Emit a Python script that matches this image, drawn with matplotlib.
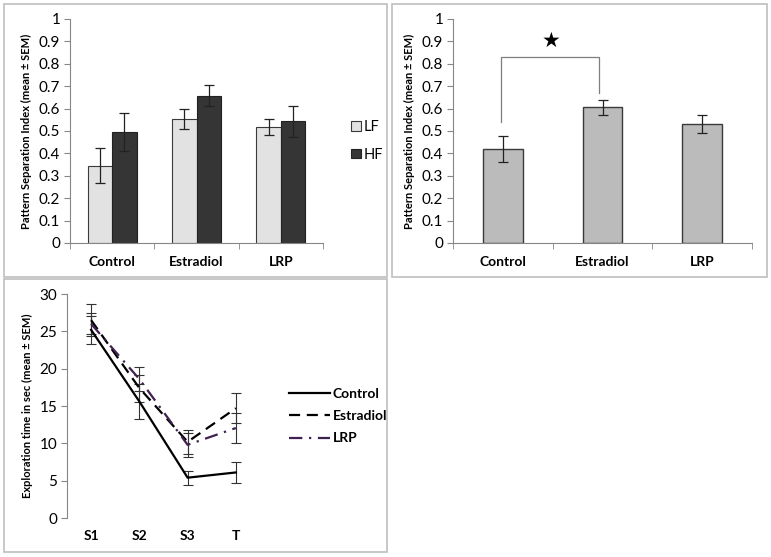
import numpy as np
import matplotlib.pyplot as plt
from matplotlib.patches import Rectangle
from matplotlib.lines import Line2D

plt.rcParams['font.family'] = ['Lato', 'DejaVu Sans']

# podaci - panel 1 (LF / HF)
groups = ["Control", "Estradiol", "LRP"]
lf_mean = [0.345, 0.553, 0.518]
lf_sem = [0.078, 0.045, 0.037]
hf_mean = [0.495, 0.657, 0.543]
hf_sem = [0.085, 0.047, 0.068]

# panel 2
psi_mean = [0.418, 0.605, 0.532]
psi_sem = [0.058, 0.033, 0.039]

# panel 3 (vrijeme istrazivanja)
sessions = ["S1", "S2", "S3", "T"]
ctrl_time = [25.2, 15.6, 5.4, 6.1]
ctrl_sem = [1.9, 2.3, 0.95, 1.45]
estr_time = [26.5, 17.4, 10.2, 14.7]
estr_sem = [2.1, 1.8, 1.6, 2.0]
lrp_time = [26.0, 18.6, 9.8, 12.05]
lrp_sem = [1.4, 1.6, 1.6, 1.95]

W, H = 771, 557
fig = plt.figure(figsize=(W / 100, H / 100), dpi=100)


def px_axes(l, t, r, b):
    return fig.add_axes([l / W, 1 - b / H, (r - l) / W, (b - t) / H])


def frame(l, t, r, b):
    fig.patches.append(Rectangle((l / W, 1 - b / H), (r - l) / W, (b - t) / H,
                                 transform=fig.transFigure, fill=False,
                                 edgecolor='#bfbfbf', linewidth=1.2))


axis_col = '#868686'
err_kw = dict(ecolor='#222222', elinewidth=0.9, capsize=3.5, capthick=0.9)


def style_bar_axes(ax, ylab):
    ax.set_ylim(0, 1)
    ax.set_yticks(np.arange(0, 1.01, 0.1))
    ax.set_yticklabels(["0"] + [f"{v:.1f}" for v in np.arange(0.1, 0.95, 0.1)] + ["1"])
    ax.set_xlim(-0.5, 2.5)
    ax.set_xticks([0, 1, 2])
    ax.set_xticklabels(groups, fontweight='bold', fontsize=10)
    ax.set_xticks([-0.5, 0.5, 1.5, 2.5], minor=True)
    ax.tick_params(axis='x', which='major', length=0, pad=9)
    ax.tick_params(axis='x', which='minor', length=4, color=axis_col)
    ax.tick_params(axis='y', length=4, color=axis_col, labelsize=11, pad=3)
    for s in ['top', 'right']:
        ax.spines[s].set_visible(False)
    for s in ['left', 'bottom']:
        ax.spines[s].set_color(axis_col)
    ax.set_ylabel(ylab, fontweight='bold', fontsize=8, labelpad=5)


# panel 1
frame(4, 4, 387, 277)
ax1 = px_axes(70, 19, 323, 243)
x = np.arange(len(groups))
bw = 0.29
ax1.bar(x - bw / 2, lf_mean, bw, yerr=lf_sem, color='#e2e2e2', edgecolor='#3a3a3a',
        linewidth=0.8, error_kw=err_kw, label='LF')
ax1.bar(x + bw / 2, hf_mean, bw, yerr=hf_sem, color='#353535', edgecolor='#222222',
        linewidth=0.8, error_kw=err_kw, label='HF')
style_bar_axes(ax1, "Pattern Separation Index (mean ± SEM)")
ax1.legend(loc='center left', bbox_to_anchor=(338 / W, 1 - 141 / H),
           bbox_transform=fig.transFigure, frameon=False, fontsize=10.5,
           handlelength=0.65, handleheight=0.65, handletextpad=0.2, labelspacing=0.9)

# panel 2
frame(392, 4, 767, 277)
ax2 = px_axes(453, 19, 752, 243)
ax2.bar(x, psi_mean, 0.4, yerr=psi_sem, color='#bbbbbb', edgecolor='#3a3a3a',
        linewidth=1.0, error_kw=err_kw)
style_bar_axes(ax2, "Pattern Separation Index (mean ± SEM)")
br = '#7f7f7f'
ax2.plot([-0.02, -0.02, 0.96, 0.96], [0.54, 0.83, 0.83, 0.67], color=br, linewidth=0.9)
ax2.text(0.48, 0.9, "★", ha='center', va='center', fontsize=15, family='DejaVu Sans')

# panel 3
frame(4, 279, 387, 552)
ax3 = px_axes(67, 294, 260, 518)
xs = np.arange(len(sessions))
line_err = dict(capsize=3.5, elinewidth=0.8, capthick=0.8, ecolor='#333333')
styles = [('Control', ctrl_time, ctrl_sem, 'black', '-'),
          ('Estradiol', estr_time, estr_sem, 'black', (0, (5, 3))),
          ('LRP', lrp_time, lrp_sem, '#3f2150', (0, (6, 3, 1, 3)))]
handles = []
for name, vals, sem, col, ls in styles:
    ax3.errorbar(xs, vals, yerr=sem, color=col, linewidth=1.6, linestyle=ls, **line_err)
    handles.append(Line2D([], [], color=col, linewidth=1.6, linestyle=ls, label=name))
ax3.set_xlim(-0.5, 3.5)
ax3.set_ylim(0, 30)
ax3.set_yticks(np.arange(0, 31, 5))
ax3.set_xticks(xs)
ax3.set_xticklabels(sessions, fontweight='bold', fontsize=10)
ax3.tick_params(axis='x', length=0, pad=9)
ax3.tick_params(axis='y', length=4, color=axis_col, labelsize=11, pad=3)
for s in ['top', 'right', 'bottom']:
    ax3.spines[s].set_visible(False)
ax3.spines['left'].set_color(axis_col)
ax3.set_ylabel("Exploration time in sec (mean ± SEM)", fontweight='bold', fontsize=8,
               labelpad=5)
ax3.legend(handles=handles, loc='center left', bbox_to_anchor=(276 / W, 1 - 416 / H),
           bbox_transform=fig.transFigure, frameon=False,
           prop={'weight': 'bold', 'size': 10},
           handlelength=3.0, handletextpad=0.2, labelspacing=0.75)

fig.savefig("out.png", dpi=100)
